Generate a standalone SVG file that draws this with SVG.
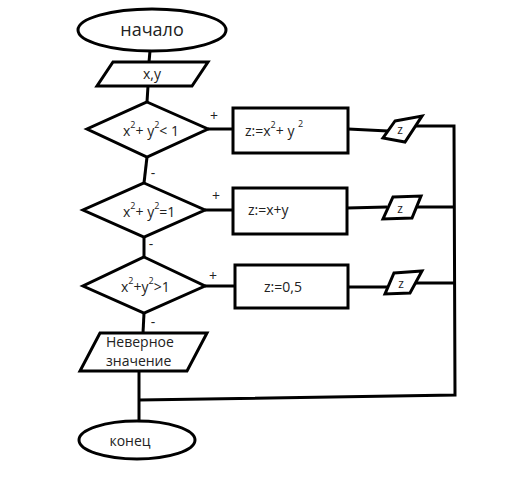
<svg xmlns="http://www.w3.org/2000/svg" width="518" height="480" viewBox="0 0 518 480">
<style>
.s{fill:#fff;stroke:#000;stroke-width:3;stroke-linejoin:miter}
.c{fill:none;stroke:#000;stroke-width:3}
text{font-family:"Open Sans","Liberation Sans",sans-serif;font-size:14px;fill:#222}
.m{text-anchor:middle}
.sup{font-size:9px}
</style>
<rect width="518" height="480" fill="#fff"/>
<g id="connectors">
<path class="c" d="M150,51 L149,62"/>
<path class="c" d="M148,86 L147,102"/>
<path class="c" d="M147,157 L144,183"/>
<path class="c" d="M144,237 L144,257"/>
<path class="c" d="M144,313 L143,333"/>
<path class="c" d="M139,371 L139,421"/>
<path class="c" d="M208,129 L233,129"/>
<path class="c" d="M205,210 L233,210"/>
<path class="c" d="M205,286 L235,286"/>
<path class="c" d="M348,129 L388,131"/>
<path class="c" d="M347,208 L387,207"/>
<path class="c" d="M348,287 L389,287"/>
<path class="c" d="M415,126 L454,126 L455,395 L139,400"/>
<path class="c" d="M417,207 L454,207"/>
<path class="c" d="M416,283 L455,283"/>
<text x="214" y="121" class="m">+</text>
<text x="216" y="201" class="m">+</text>
<text x="213" y="281" class="m">+</text>
<text x="153" y="178" class="m">-</text>
<text x="151" y="249" class="m">-</text>
<text x="153" y="327" class="m">-</text>
</g>
<g id="start">
<ellipse class="s" cx="152" cy="30" rx="74" ry="21"/>
<text x="152" y="36" class="m" style="font-size:18px">начало</text>
</g>
<g id="input">
<polygon class="s" points="113,62 208,62 192,86 97,86"/>
<text x="152" y="79" class="m">x,y</text>
</g>
<g id="cond1">
<polygon class="s" points="147,102 208,129 147,157 87,129"/>
<text x="123" y="136">x<tspan class="sup" dy="-8">2</tspan><tspan dy="8">+ y</tspan><tspan class="sup" dy="-8">2</tspan><tspan dy="8">&lt; 1</tspan></text>
</g>
<g id="proc1">
<rect class="s" x="233" y="108" width="115" height="45"/>
<text x="245" y="136">z:=x<tspan class="sup" dy="-8">2</tspan><tspan dy="8">+ y </tspan><tspan class="sup" dy="-9">2</tspan></text>
</g>
<g id="out1">
<polygon class="s" points="395,121 422,116 405,142 383,138"/>
<text x="400" y="134" class="m" style="font-size:12px">z</text>
</g>
<g id="cond2">
<polygon class="s" points="144,183 205,210 144,237 83,210"/>
<text x="123" y="217">x<tspan class="sup" dy="-8">2</tspan><tspan dy="8">+ y</tspan><tspan class="sup" dy="-8">2</tspan><tspan dy="8">=1</tspan></text>
</g>
<g id="proc2">
<rect class="s" x="233" y="188" width="114" height="46"/>
<text x="248" y="215">z:=x+y</text>
</g>
<g id="out2">
<polygon class="s" points="393,197 421,196 412,218 383,219"/>
<text x="400" y="213" class="m" style="font-size:12px">z</text>
</g>
<g id="cond3">
<polygon class="s" points="144,257 205,286 144,313 83,286"/>
<text x="121" y="292">x<tspan class="sup" dy="-8">2</tspan><tspan dy="8">+y</tspan><tspan class="sup" dy="-8">2</tspan><tspan dy="8">&gt;1</tspan></text>
</g>
<g id="proc3">
<rect class="s" x="235" y="265" width="113" height="43"/>
<text x="283" y="292" class="m">z:=0,5</text>
</g>
<g id="out3">
<polygon class="s" points="394,273 422,271 410,293 385,294"/>
<text x="401" y="288" class="m" style="font-size:12px">z</text>
</g>
<g id="error">
<polygon class="s" points="100,333 207,333 187,371 80,371"/>
<text x="106" y="347">Неверное</text>
<text x="106" y="366">значение</text>
</g>
<g id="end">
<ellipse class="s" cx="137" cy="440" rx="58" ry="19"/>
<text x="130" y="446" class="m">конец</text>
</g>
</svg>
